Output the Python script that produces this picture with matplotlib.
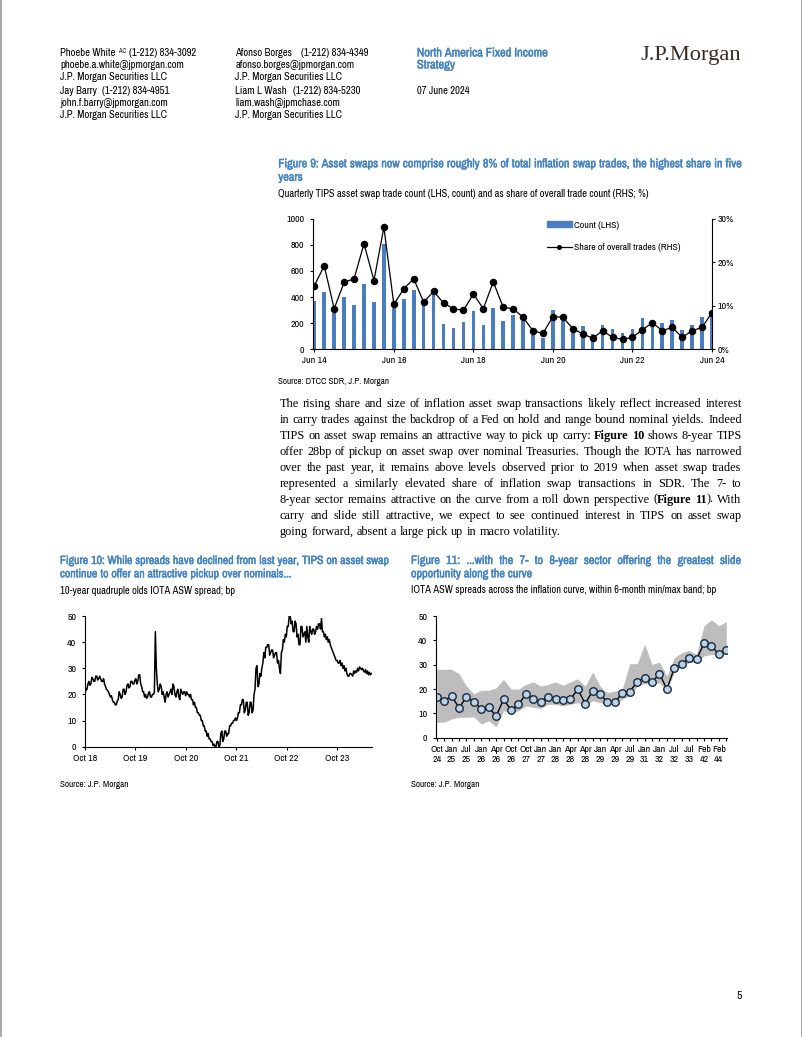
import os
import matplotlib
matplotlib.use("Agg")
import numpy as np
import pandas as pd
import matplotlib.pyplot as plt
from matplotlib import font_manager as fm
from matplotlib import patheffects as pe
from matplotlib.patches import Patch
from matplotlib.lines import Line2D

# ---------------- data ----------------
# Figure 9: quarterly TIPS asset swap trades, Jun 14 .. Jun 24
asw_count = [372, 436, 276, 397, 340, 503, 361, 805, 315, 387, 457, 340, 430, 191,
             163, 209, 294, 181, 312, 217, 263, 215, 106, 88, 302, 212, 121, 178,
             116, 186, 155, 121, 155, 237, 194, 201, 222, 147, 188, 250, 263]
asw_share = [14.6, 19.2, 9.3, 15.4, 16.2, 24.3, 15.8, 28.1, 10.3, 13.9, 16.2, 10.8,
             13.3, 10.6, 9.3, 8.9, 12.7, 9.3, 15.5, 9.6, 9.3, 7.3, 4.2, 3.6, 7.5,
             7.3, 4.7, 3.5, 2.5, 4.2, 2.7, 2.2, 2.7, 4.4, 6.1, 4.2, 5.0, 2.7, 4.2,
             5.0, 8.4]
fig9_ticklabels = ["Jun 14", "Jun 16", "Jun 18", "Jun 20", "Jun 22", "Jun 24"]

# Figure 10: 10y quadruple olds IOTA ASW spread (bp), roughly weekly, Oct 18 .. Jun 24
iota_asw = [23, 21.5, 22, 24, 25, 23.5, 24, 26.5, 26, 25, 25, 27, 27, 25.5, 26, 27, 26, 25, 25, 26, 24, 23, 22, 21.5, 21, 20,
            19, 19.5, 18, 17, 17, 16, 16, 17.5, 18, 21, 20, 18.5, 19, 22, 22, 20, 21, 23.5, 24, 22.5, 23, 25, 25, 24, 24, 25.5,
            26, 24, 25, 27.5, 27.5, 24, 23, 21, 21, 19, 20, 18.5, 19, 20.5, 21, 19, 19, 20, 20, 21, 44, 30, 24, 21, 22, 24,
            23, 20, 21, 19, 17, 20, 21, 19, 20, 21, 22, 20, 24, 23, 20, 19, 21, 22, 19, 18, 22, 21, 20, 21, 21, 19.5,
            21, 20, 20, 19, 20, 18, 18, 16, 17, 15, 15, 13, 13, 12, 12, 10, 10, 8, 8, 6, 6, 4, 5, 3, 3, 2,
            2, 0.5, 1, 0, 0, 2, 2, 0, 0.5, 5, 6, 2, 3, 6, 6, 4, 5, 5, 8, 8, 9, 9, 10, 10, 11, 10,
            11, 13, 13, 16, 16, 18, 18, 13, 14, 17, 17, 12, 13, 17, 17, 13, 14, 20, 22, 30, 31, 23, 24, 28, 27, 30,
            32, 36, 34, 38, 38, 39, 39, 35, 36, 37, 37, 34, 35, 36, 36, 32, 33, 30, 28, 36, 37, 41, 40, 43, 42, 46,
            46, 50, 50, 47, 48, 44, 44, 48, 47, 42, 43, 39, 39, 46, 46, 42, 43, 44, 40, 46, 42, 40, 46, 44, 43, 45,
            45, 43, 44, 46, 45, 47, 47, 45, 49, 44, 44, 42, 43, 41, 42, 40, 41, 39, 38, 37, 36, 35, 34, 33, 33, 32,
            32, 33, 31, 32, 30, 31, 29, 30, 28, 27, 27, 28, 28, 27.5, 27, 29, 28, 29, 28.5, 30, 29, 30.5, 30, 29.5,
            30, 29, 28.5, 29.5, 28, 29, 27.5, 28.5, 27.5, 28]
fig10_ticklabels = ["Oct 18", "Oct 19", "Oct 20", "Oct 21", "Oct 22", "Oct 23"]

# Figure 11: IOTA ASW spreads across the curve with 6m min/max band (bp)
curve_labels = ["Oct\n24", "Jan\n25", "Jul\n25", "Jan\n26", "Apr\n26", "Oct\n26",
                "Oct\n27", "Jan\n27", "Jan\n28", "Apr\n28", "Apr\n28", "Jan\n29",
                "Apr\n29", "Jul\n29", "Jan\n31", "Jan\n32", "Jul\n32", "Jul\n33",
                "Feb\n42", "Feb\n44"]
curve_asw = [16.8, 15.1, 17.1, 12.3, 16.6, 14.8, 11.8, 12.5, 8.8, 15.8,
             11.4, 13.7, 17.8, 15.8, 14.7, 16.8, 15.9, 15.6, 15.8, 19.9,
             14.0, 19.2, 17.8, 14.7, 14.5, 18.5, 18.9, 23.0, 24.7, 22.7,
             26.3, 20.0, 28.5, 30.4, 32.6, 32.2, 38.8, 37.8, 34.2, 36.2]
band_high = [28.1, 28.1, 28.1, 26.3, 21.2, 18.0, 19.5, 19.5, 20.5, 24.0,
             20.1, 19.9, 21.9, 22.9, 21.2, 21.9, 22.9, 21.5, 22.9, 24.2,
             21.2, 27.0, 21.2, 18.5, 19.2, 20.1, 30.4, 30.4, 38.4, 30.1,
             31.1, 25.3, 32.9, 34.9, 35.9, 34.2, 46.0, 48.4, 46.0, 47.7]
band_low = [6.3, 6.4, 7.7, 8.4, 8.4, 8.6, 5.6, 7.0, 4.5, 11.0,
            10.5, 11.0, 13.0, 12.5, 12.0, 13.7, 13.7, 13.0, 13.7, 14.4,
            13.4, 15.1, 14.4, 13.7, 14.0, 15.8, 17.1, 21.2, 22.3, 21.9,
            22.6, 19.5, 26.7, 29.5, 30.8, 31.1, 33.6, 34.2, 33.8, 34.9]

body_lines = [
    "The rising share and size of inflation asset swap transactions likely reflect increased interest",
    "in carry trades against the backdrop of a Fed on hold and range bound nominal yields. Indeed",
    "TIPS on asset swap remains an attractive way to pick up carry: **Figure 10** shows 8-year TIPS",
    "offer 28bp of pickup on asset swap over nominal Treasuries. Though the IOTA has narrowed",
    "over the past year, it remains above levels observed prior to 2019 when asset swap trades",
    "represented a similarly elevated share of inflation swap transactions in SDR. The 7- to",
    "8-year sector remains attractive on the curve from a roll down perspective (**Figure 11**). With",
    "carry and slide still attractive, we expect to see continued interest in TIPS on asset swap",
    "going forward, absent a large pick up in macro volatility.",
]

# ---------------- page setup ----------------
W, H = 802, 1037
_installed = {f.name for f in fm.fontManager.ttflist}
_narrow = [n for n in ("Arial Narrow", "Liberation Sans Narrow", "Nimbus Sans Narrow",
                       "Archivo Narrow", "PT Sans Narrow", "Roboto Condensed",
                       "Open Sans Condensed") if n in _installed]
SANS = _narrow[:1] + ["Liberation Sans", "DejaVu Sans"]
SERIF = ["Liberation Serif", "DejaVu Serif"]
BLUE = "#4383c4"
BAR = "#4a7dbf"
plt.rcParams["font.family"] = SANS

# if no real bold face of the chosen font is installed, fake it with a thin stroke
_bold_file = os.path.basename(fm.findfont(fm.FontProperties(family=SANS, weight="bold"))).lower()
FAKE_BOLD = "bold" not in _bold_file

fig = plt.figure(figsize=(W / 100, H / 100), dpi=100)
R = fig.canvas.get_renderer()


def X(x):
    return x / W


def Y(y):
    return 1 - y / H


def put(x, y, s, size, family=SANS, weight="normal", color="black", ha="left"):
    t = fig.text(X(x), Y(y), s, fontsize=size, family=family, fontweight=weight,
                 color=color, ha=ha, va="baseline")
    if weight == "bold" and family is SANS and FAKE_BOLD:
        t.set_path_effects([pe.withStroke(linewidth=0.3, foreground=color)])
    return t


def width_of(s, size, family=SANS, weight="normal"):
    t = fig.text(0, 0, s, fontsize=size, family=family, fontweight=weight)
    w = t.get_window_extent(R).width
    t.remove()
    return w


def fit_size(s, width, family=SANS, weight="normal"):
    return 10 * width / width_of(s, 10, family, weight)


def parse(line):
    words = [[]]
    for k, chunk in enumerate(line.split("**")):
        bold = k % 2 == 1
        for j, p in enumerate(chunk.split(" ")):
            if j > 0:
                words.append([])
            if p:
                words[-1].append((p, bold))
    return [w for w in words if w]


def justify(lines, x0, x1, y0, dy, size, family, color="black", grow=False, weight="normal"):
    target = x1 - x0
    parsed = [parse(l) for l in lines]

    def wt(b):
        return "bold" if (b or weight == "bold") else "normal"

    def measure(sz):
        ws = [[[width_of(p, sz, family, wt(b)) for p, b in w] for w in line] for line in parsed]
        sp = width_of("x x", sz, family, wt(False)) - width_of("xx", sz, family, wt(False))
        return ws, sp

    ws, sp = measure(size)
    n_just = max(len(lines) - 1, 1)
    nat = max(sum(sum(w) for w in row) + sp * (len(row) - 1) for row in ws[:n_just])
    if grow or nat > target:
        size = size * target / nat * 0.99
        ws, sp = measure(size)
    for i, (line, row) in enumerate(zip(parsed, ws)):
        y = y0 + i * dy
        tot = sum(sum(w) for w in row)
        gap = (target - tot) / (len(row) - 1) if (i < len(lines) - 1 and len(row) > 1) else sp
        x = x0
        for word, wws in zip(line, row):
            for (p, b), pw in zip(word, wws):
                put(x, y, p, size, family, wt(b), color)
                x += pw
            x += gap
    return size


# page border
for xb in (0.5, W - 0.5):
    fig.add_artist(Line2D([X(xb), X(xb)], [0, 1], transform=fig.transFigure,
                          color="#9a9a9a", lw=1.2))

# ---------------- header ----------------
HS = fit_size("J.P. Morgan Securities LLC", 107.8)
put(60, 56.5, "Phoebe White", HS)
put(118.7, 53.0, "AC", HS * 0.6)
put(129.4, 56.5, "(1-212) 834-3092", HS)
put(60, 68.5, "phoebe.a.white@jpmorgan.com", HS)
put(60, 80.5, "J.P. Morgan Securities LLC", HS)
put(60, 94.5, "Jay Barry", HS)
put(102.3, 94.5, "(1-212) 834-4951", HS)
put(60, 106.5, "john.f.barry@jpmorgan.com", HS)
put(60, 118.5, "J.P. Morgan Securities LLC", HS)

put(235.3, 56.5, "Afonso Borges", HS)
put(300.8, 56.5, "(1-212) 834-4349", HS)
put(235.3, 68.5, "afonso.borges@jpmorgan.com", HS)
put(235.3, 80.5, "J.P. Morgan Securities LLC", HS)
put(235.3, 94.5, "Liam L Wash", HS)
put(293.1, 94.5, "(1-212) 834-5230", HS)
put(235.3, 106.5, "liam.wash@jpmchase.com", HS)
put(235.3, 118.5, "J.P. Morgan Securities LLC", HS)

NS = fit_size("North America Fixed Income", 131.4, weight="bold")
put(416.9, 56.5, "North America Fixed Income", NS, weight="bold", color=BLUE)
put(416.9, 68.5, "Strategy", NS, weight="bold", color=BLUE)
put(416.9, 94.5, "07 June 2024", HS)

logo_size = fit_size("J.P.Morgan", 100, SERIF)
put(741, 60, "J.P.Morgan", logo_size, SERIF, color="#3a2a20", ha="right")

# ---------------- titles / captions ----------------
TT = justify(["Figure 9: Asset swaps now comprise roughly 8% of total inflation swap trades, "
              "the highest share in five", "years"],
             278.3, 741.7, 167.3, 13.4, 8.6, SANS, BLUE, grow=True, weight="bold")
SUB = fit_size("Quarterly TIPS asset swap trade count (LHS, count) and as share of overall "
               "trade count (RHS; %)", 372.7)
put(278.3, 196.7, "Quarterly TIPS asset swap trade count (LHS, count) and as share of "
    "overall trade count (RHS; %)", SUB)
SRC = fit_size("Source: DTCC SDR, J.P. Morgan", 111)
put(278.3, 384, "Source: DTCC SDR, J.P. Morgan", SRC)

justify(body_lines, 280, 741.7, 406.7, 16.0, 10.0, SERIF, grow=True)

justify(["Figure 10: While spreads have declined from last year, TIPS on asset swap",
         "continue to offer an attractive pickup over nominals..."],
        60, 389, 564, 13.3, TT, SANS, BLUE, weight="bold")
put(60, 593.5, "10-year quadruple olds IOTA ASW spread; bp", SUB)
put(60, 787, "Source: J.P. Morgan", SRC)

justify(["Figure 11: ...with the 7- to 8-year sector offering the greatest slide",
         "opportunity along the curve"],
        411, 741, 564, 13.3, TT, SANS, BLUE, weight="bold")
put(411, 593.3, "IOTA ASW spreads across the inflation curve, within 6-month min/max band; bp", SUB)
put(411, 787, "Source: J.P. Morgan", SRC)

put(742, 999, "5", HS * 1.1, ha="right")

TS = fit_size("Jun 14", 24.3)

# ---------------- Figure 9 ----------------
ax9 = fig.add_axes([X(313), Y(349), 399 / W, 130 / H])
q = np.arange(len(asw_count))
ax9.bar(q, asw_count, width=0.36, color=BAR, zorder=2)
ax9.set_xlim(-0.13, 40.0)
ax9.set_ylim(0, 1000)
ax9.set_yticks(range(0, 1001, 200))
ax9.set_xticks(q[::8])
ax9.set_xticklabels(fig9_ticklabels)
for s in ("top", "right"):
    ax9.spines[s].set_visible(False)
ax9b = ax9.twinx()
ax9b.plot(q, asw_share, color="black", lw=0.9, marker="o", ms=4.4)
ax9b.set_ylim(0, 30)
ax9b.set_yticks([0, 10, 20, 30])
ax9b.set_yticklabels(["0%", "10%", "20%", "30%"])
for s in ("top", "left", "bottom"):
    ax9b.spines[s].set_visible(False)
ax9.tick_params(axis="y", direction="out", length=2.3, width=0.8, labelsize=TS, pad=4)
ax9.tick_params(axis="x", direction="out", length=2.3, width=0.8, labelsize=TS, pad=3)
ax9b.tick_params(axis="y", direction="out", length=2.3, width=0.8, labelsize=TS, pad=1.5)
for a in (ax9, ax9b):
    for s in a.spines.values():
        s.set_linewidth(0.8)
fsp = TS * 100 / 72
ax9b.legend(handles=[Patch(color=BAR), Line2D([], [], color="black", lw=0.9, marker="o", ms=2.6)],
            labels=["Count (LHS)", "Share of overall trades (RHS)"],
            loc="upper left", bbox_to_anchor=(X(546.7), Y(220.5)), bbox_transform=fig.transFigure,
            frameon=False, fontsize=TS, handlelength=25 / fsp, handleheight=4.6 / fsp,
            handletextpad=0.2, labelspacing=1.4, borderpad=0, borderaxespad=0)

# ---------------- Figure 10 ----------------
ax10 = fig.add_axes([X(85), Y(746.7), 287 / W, 130.7 / H])
d = pd.date_range("2018-10-01", "2024-06-05", periods=len(iota_asw))
ax10.plot(d, iota_asw, color="black", lw=1.1)
ax10.set_xlim(pd.Timestamp("2018-10-01"), pd.Timestamp("2024-06-10"))
ax10.set_ylim(0, 50)
ax10.set_yticks(range(0, 51, 10))
ax10.set_xticks(pd.to_datetime([f"{y}-10-01" for y in range(2018, 2024)]))
ax10.set_xticklabels(fig10_ticklabels)
for s in ("top", "right"):
    ax10.spines[s].set_visible(False)
for s in ax10.spines.values():
    s.set_linewidth(0.8)
ax10.tick_params(axis="y", direction="out", length=2.3, width=0.8, labelsize=TS, pad=4)
ax10.tick_params(axis="x", direction="out", length=2.3, width=0.8, labelsize=TS, pad=3)

# ---------------- Figure 11 ----------------
ax11 = fig.add_axes([X(436), Y(737.7), 291 / W, 121.7 / H])
k = np.arange(len(curve_asw))
ax11.fill_between(k, band_low, band_high, color="#bdbdbd", lw=0)
ax11.plot(k, curve_asw, color="black", lw=1.0, marker="o", ms=5.4,
          mfc="#b7d2ea", mec="#1b2838", mew=1.0)
ax11.set_xlim(-0.1, 39.1)
ax11.set_ylim(0, 50)
ax11.set_yticks(range(0, 51, 10))
ax11.set_xticks(k)
ax11.set_xticklabels([curve_labels[i // 2] if i % 2 == 0 else "" for i in k],
                     linespacing=1.2)
for s in ("top", "right"):
    ax11.spines[s].set_visible(False)
for s in ax11.spines.values():
    s.set_linewidth(0.8)
ax11.tick_params(axis="y", direction="out", length=2.3, width=0.8, labelsize=TS, pad=4)
ax11.tick_params(axis="x", direction="out", length=2.3, width=0.8, labelsize=TS, pad=3)

fig.savefig("out.png", dpi=100)
